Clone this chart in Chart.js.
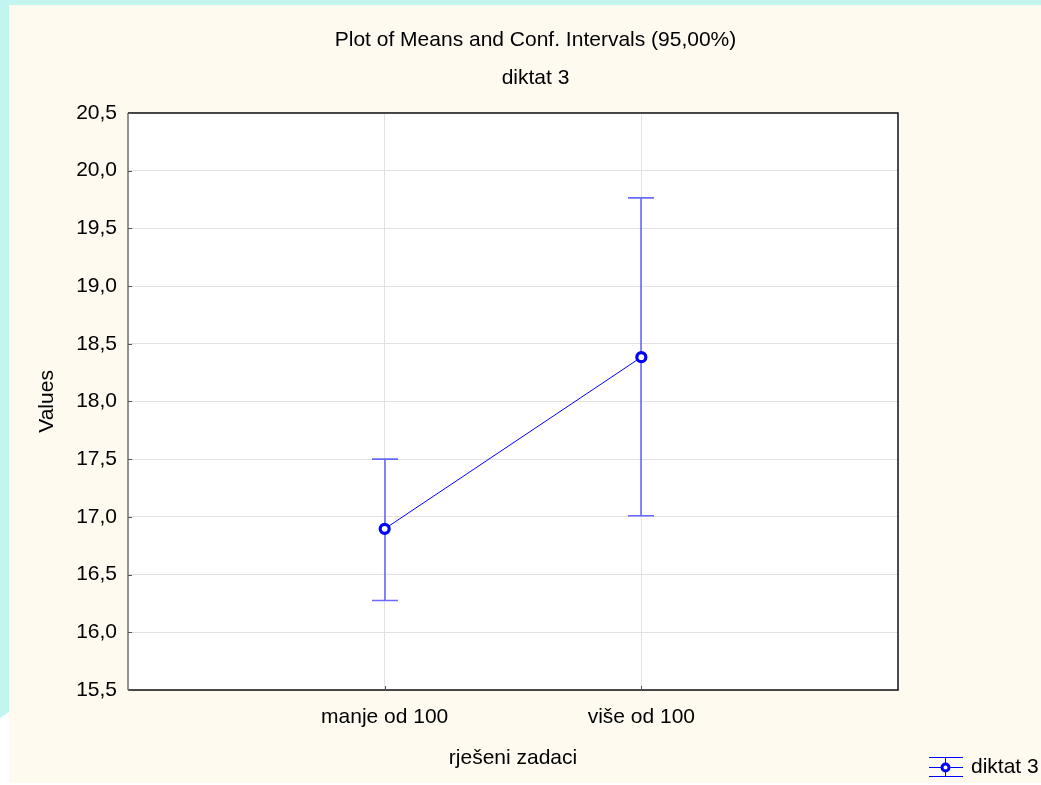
<!DOCTYPE html>
<html>
<head>
<meta charset="utf-8">
<script src="https://cdn.jsdelivr.net/npm/chart.js@4"></script>
<style>
  html, body { margin: 0; padding: 0; background: #c3f5f0; }
  #wrap { position: absolute; left: 0; top: 0; width: 1041px; height: 785px; }
</style>
</head>
<body>
<div id="wrap"><canvas id="c" width="1041" height="785"></canvas></div>
<script>
const categories = ['manje od 100', 'više od 100'];
const means = [16.896, 18.384];
const lower = [16.275, 17.01];
const upper = [17.50, 19.764];
const yTicks = [15.5, 16.0, 16.5, 17.0, 17.5, 18.0, 18.5, 19.0, 19.5, 20.0, 20.5];
const titleText = 'Plot of Means and Conf. Intervals (95,00%)';
const subtitleText = 'diktat 3';
const seriesName = 'diktat 3';
const xTitle = 'rješeni zadaci';
const yTitle = 'Values';

const FONT = 'Liberation Sans, Arial, sans-serif';
const BLUE = '#0000ff';
const ERR = 'rgba(70,70,255,0.8)';

const points = means.map((m, i) => ({ x: i + 1, y: m }));

const bgPlugin = {
  id: 'bg',
  beforeDraw(chart) {
    const ctx = chart.ctx;
    ctx.save();
    ctx.fillStyle = '#c3f5f0';
    ctx.fillRect(0, 0, chart.width, chart.height);
    ctx.fillStyle = '#ffffff';
    ctx.beginPath();
    ctx.moveTo(0, 718); ctx.lineTo(9, 712); ctx.lineTo(9, 785); ctx.lineTo(0, 785); ctx.closePath();
    ctx.fill();
    ctx.fillRect(0, 783, chart.width, 2);
    ctx.fillStyle = '#fefaf0';
    ctx.fillRect(9, 5, chart.width - 9, 778);
    ctx.fillStyle = '#ffffff';
    const a = chart.chartArea;
    ctx.fillRect(a.left, a.top, a.right - a.left, a.bottom - a.top);
    ctx.restore();
  }
};

const errPlugin = {
  id: 'errbars',
  beforeDatasetsDraw(chart) {
    const ctx = chart.ctx;
    const xs = chart.scales.x, ys = chart.scales.y;
    ctx.save();
    ctx.strokeStyle = ERR;
    ctx.lineWidth = 1.6;
    for (let i = 0; i < means.length; i++) {
      const px = Math.round(xs.getPixelForValue(i + 1));
      const yl = ys.getPixelForValue(lower[i]);
      const yu = ys.getPixelForValue(upper[i]);
      ctx.beginPath();
      ctx.moveTo(px, yl); ctx.lineTo(px, yu);
      ctx.moveTo(px - 13, yl); ctx.lineTo(px + 13, yl);
      ctx.moveTo(px - 13, yu); ctx.lineTo(px + 13, yu);
      ctx.stroke();
    }
    ctx.restore();
  },
  afterDraw(chart) {
    const ctx = chart.ctx;
    const a = chart.chartArea;
    const xs = chart.scales.x, ys = chart.scales.y;
    ctx.save();
    ctx.lineWidth = 1.5;
    ctx.strokeStyle = '#111';
    ctx.beginPath();
    ctx.moveTo(a.left, a.top); ctx.lineTo(a.right, a.top); ctx.lineTo(a.right, a.bottom); ctx.lineTo(a.left, a.bottom);
    ctx.stroke();
    ctx.strokeStyle = '#6e6e6e';
    ctx.beginPath();
    ctx.moveTo(a.left, a.top); ctx.lineTo(a.left, a.bottom);
    ctx.stroke();
    ctx.lineWidth = 1;
    ctx.strokeStyle = '#555';
    ctx.beginPath();
    ys.ticks.forEach(t => {
      const py = Math.round(ys.getPixelForValue(t.value)) + 0.5;
      ctx.moveTo(a.left, py); ctx.lineTo(a.left + 4, py);
    });
    xs.ticks.forEach(t => {
      const px = Math.round(xs.getPixelForValue(t.value)) + 0.5;
      ctx.moveTo(px, a.bottom); ctx.lineTo(px, a.bottom - 4);
    });
    ctx.stroke();
    // legend
    const lx = 929, lw = 34, ly = 767;
    ctx.strokeStyle = BLUE;
    ctx.lineWidth = 1;
    ctx.beginPath();
    ctx.moveTo(lx, ly - 9.5); ctx.lineTo(lx + lw, ly - 9.5);
    ctx.moveTo(lx, ly + 0.5); ctx.lineTo(lx + lw, ly + 0.5);
    ctx.moveTo(lx, ly + 9.5); ctx.lineTo(lx + lw, ly + 9.5);
    ctx.moveTo(lx + 16.5, ly - 9.5); ctx.lineTo(lx + 16.5, ly + 9.5);
    ctx.stroke();
    ctx.lineWidth = 3;
    ctx.fillStyle = '#ffffff';
    ctx.beginPath();
    ctx.arc(lx + 16.5, ly + 0.5, 3.5, 0, Math.PI * 2);
    ctx.fill(); ctx.stroke();
    ctx.fillStyle = '#000';
    ctx.font = '21px ' + FONT;
    ctx.textBaseline = 'middle';
    ctx.textAlign = 'left';
    ctx.fillText(seriesName, 971, ly);
    ctx.restore();
  }
};

new Chart(document.getElementById('c'), {
  type: 'line',
  data: {
    datasets: [{
      label: seriesName,
      data: points,
      borderColor: BLUE,
      borderWidth: 1,
      backgroundColor: '#ffffff',
      pointRadius: 4.5,
      pointBorderWidth: 3.2,
      pointBorderColor: BLUE,
      pointBackgroundColor: '#ffffff',
      tension: 0
    }]
  },
  options: {
    responsive: false,
    animation: false,
    devicePixelRatio: 1,
    layout: { padding: { left: 30, right: 0, top: 0, bottom: 0 } },
    plugins: {
      legend: { display: false },
      tooltip: { enabled: false },
      title: {
        display: true, text: titleText, color: '#000',
        font: { family: FONT, size: 21, weight: 'normal' },
        padding: { top: 27.5, bottom: 0 }
      },
      subtitle: {
        display: true, text: subtitleText, color: '#000',
        font: { family: FONT, size: 21, weight: 'normal' },
        padding: { top: 12.5, bottom: 22.5 }
      }
    },
    scales: {
      x: {
        type: 'linear', min: 0, max: 3,
        afterBuildTicks(scale) { scale.ticks = categories.map((c, i) => ({ value: i + 1 })); },
        afterFit(scale) { scale.height = 95; },
        ticks: {
          color: '#000', font: { family: FONT, size: 21 }, padding: 15,
          maxRotation: 0, autoSkip: false,
          callback: (v) => categories[Math.round(v) - 1] || ''
        },
        grid: { color: '#e2e2e2', lineWidth: 1, drawTicks: false, tickLength: 0 },
        border: { display: false },
        title: {
          display: true, text: xTitle, color: '#000',
          font: { family: FONT, size: 21 }, padding: { top: 0, bottom: 14.5 }
        }
      },
      y: {
        min: 15.5, max: 20.5,
        afterBuildTicks(scale) { scale.ticks = yTicks.map(v => ({ value: v })); },
        afterFit(scale) { scale.width = 98; },
        ticks: {
          color: '#000', font: { family: FONT, size: 21 }, padding: 11,
          callback: (v) => Number(v).toFixed(1).replace('.', ',')
        },
        grid: { color: '#e2e2e2', lineWidth: 1, drawTicks: false, tickLength: 0 },
        border: { display: false },
        title: {
          display: true, text: yTitle, color: '#000',
          font: { family: FONT, size: 21 }, padding: { top: 5, bottom: 0 }
        }
      },
      yRight: {
        position: 'right', display: true,
        afterFit(scale) { scale.width = 143; },
        ticks: { display: false },
        grid: { display: false, drawOnChartArea: false },
        border: { display: false }
      }
    }
  },
  plugins: [bgPlugin, errPlugin]
});
</script>
</body>
</html>
